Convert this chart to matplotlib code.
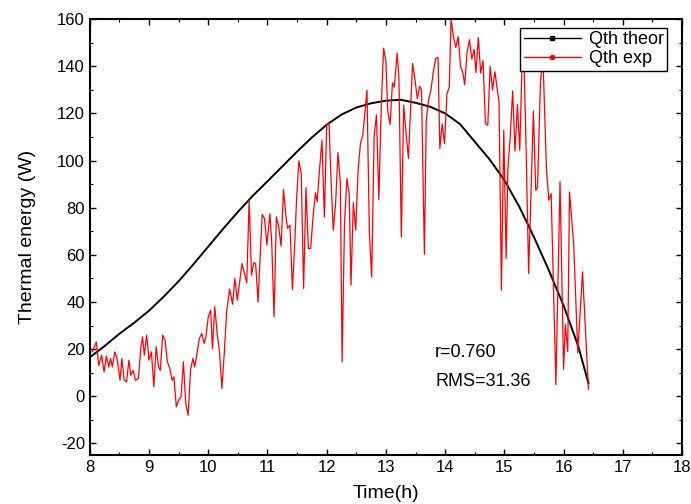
import matplotlib
matplotlib.use("Agg")
import matplotlib.pyplot as plt
from matplotlib.lines import Line2D
from matplotlib.ticker import MultipleLocator

plt.rcParams['font.family'] = ['Liberation Sans', 'DejaVu Sans']
plt.rcParams['axes.unicode_minus'] = False

# theoretical thermal energy
t_theor = [8.0, 8.25, 8.5, 8.75, 9.0, 9.25, 9.5, 9.75, 10.0, 10.25, 10.5, 10.75,
           11.0, 11.25, 11.5, 11.75, 12.0, 12.25, 12.5, 12.75, 13.0, 13.25, 13.5,
           13.75, 14.0, 14.25, 14.5, 14.75, 15.0, 15.25, 15.5, 15.75, 16.0, 16.25,
           16.42]
q_theor = [16.5, 21.3, 26.5, 31.2, 36.3, 42.3, 48.8, 56.0, 63.5, 71.0, 78.2, 85.0,
           91.2, 97.5, 103.8, 109.8, 115.2, 119.5, 122.5, 124.3, 125.4, 125.8, 124.5,
           122.8, 120.0, 115.5, 108.0, 100.5, 91.7, 80.5, 67.5, 53.5, 38.5, 21.0,
           5.5]

# measured thermal energy
t_exp = [8.04, 8.11, 8.15, 8.20, 8.24, 8.28, 8.32, 8.35, 8.38, 8.42, 8.46, 8.51,
         8.54, 8.58, 8.62, 8.66, 8.69, 8.73, 8.77, 8.82, 8.86, 8.89, 8.92, 8.96,
         9.00, 9.04, 9.08, 9.12, 9.16, 9.19, 9.23, 9.27, 9.31, 9.35, 9.39, 9.42,
         9.46, 9.50, 9.54, 9.58, 9.62, 9.66, 9.70, 9.74, 9.77, 9.81, 9.85, 9.89,
         9.93, 9.96, 10.00, 10.04, 10.07, 10.11, 10.15, 10.19, 10.23, 10.27, 10.31,
         10.36, 10.41, 10.45, 10.49, 10.57, 10.65, 10.69, 10.73, 10.77, 10.80, 10.84,
         10.91, 10.95, 10.99, 11.04, 11.07, 11.11, 11.15, 11.19, 11.23, 11.27, 11.31,
         11.34, 11.38, 11.42, 11.46, 11.49, 11.53, 11.57, 11.61, 11.65, 11.69, 11.73,
         11.77, 11.81, 11.84, 11.88, 11.92, 11.96, 12.00, 12.04, 12.07, 12.11, 12.15,
         12.19, 12.23, 12.26, 12.30, 12.34, 12.38, 12.41, 12.45, 12.49, 12.53, 12.57,
         12.61, 12.68, 12.72, 12.76, 12.80, 12.84, 12.88, 12.92, 12.96, 13.00, 13.03,
         13.07, 13.11, 13.14, 13.19, 13.22, 13.26, 13.30, 13.33, 13.38, 13.45, 13.49,
         13.53, 13.57, 13.60, 13.65, 13.68, 13.72, 13.76, 13.80, 13.84, 13.88, 13.91,
         13.95, 13.99, 14.03, 14.07, 14.10, 14.14, 14.18, 14.22, 14.26, 14.30, 14.33,
         14.37, 14.41, 14.45, 14.49, 14.52, 14.56, 14.60, 14.64, 14.68, 14.72, 14.76,
         14.80, 14.84, 14.87, 14.91, 14.95, 14.99, 15.03, 15.06, 15.10, 15.14, 15.18,
         15.22, 15.26, 15.30, 15.33, 15.37, 15.41, 15.49, 15.53, 15.56, 15.61, 15.65,
         15.71, 15.75, 15.79, 15.87, 15.94, 16.00, 16.03, 16.07, 16.10, 16.17, 16.24,
         16.32, 16.42]
q_exp = [18.8, 23.0, 13.0, 17.4, 10.3, 17.0, 12.4, 16.0, 12.4, 18.8, 16.0, 6.8,
         16.0, 6.8, 6.1, 15.3, 8.9, 11.0, 6.8, 7.5, 20.2, 25.2, 17.4, 25.9,
         15.3, 18.8, 4.0, 21.0, 12.4, 11.0, 25.9, 23.8, 14.6, 11.8, 6.8, 8.2,
         -4.5, -1.7, -0.3, 14.6, -3.1, -8.1, 11.0, 16.0, 12.4, 18.1, 24.5, 26.6,
         22.4, 25.2, 33.7, 36.5, 20.2, 37.9, 26.6, 18.8, 3.3, 18.1, 35.8,
         45.5, 39.0, 50.0, 40.7, 56.3, 48.1, 83.2, 51.4, 56.7, 56.3, 40.0,
         77.1, 75.4, 64.1, 77.4, 66.2, 33.7, 76.1, 71.9, 63.7, 87.7, 76.8,
         71.2, 72.6, 45.3, 64.1, 83.2, 99.9, 94.5, 45.7, 88.5, 62.7, 62.7,
         76.4, 86.3, 82.5, 96.6, 108.7, 76.1, 115.4, 115.7, 93.8, 70.5, 81.7,
         103.4, 90.5, 14.6, 72.6, 92.4, 86.0, 47.1, 82.1, 70.5, 95.9, 107.3,
         110.8, 129.9, 69.5, 50.6, 110.0, 119.3, 83.4, 121.7, 147.7, 142.2, 121.0,
         115.3, 133.0, 131.2, 145.6, 134.8, 67.6, 123.5, 114.3, 100.9, 141.3, 134.5,
         126.3, 131.5, 130.0, 60.2, 116.4, 125.7, 129.9, 137.7, 143.2, 143.8, 105.1,
         115.5, 107.1, 128.2, 131.3, 160.0, 152.5, 148.0, 152.6, 140.1, 137.0, 132.2,
         145.8, 151.3, 143.1, 147.2, 137.3, 152.2, 137.1, 142.4, 115.7, 115.0, 140.0,
         129.9, 137.7, 132.3, 124.9, 45.0, 112.9, 58.4, 96.6, 110.7, 129.5, 104.0,
         123.8, 104.4, 142.6, 146.0, 101.6, 52.1, 121.0, 87.4, 88.5, 133.7, 145.0,
         96.6, 83.2, 86.0, 5.0, 91.0, 11.4, 30.5, 19.0, 86.7, 64.8, 18.5,
         52.8, 3.0]

x_ticks = list(range(8, 19))
y_ticks = list(range(-20, 161, 20))

fig = plt.figure(figsize=(6.91, 5.04), dpi=100)
ax = fig.add_axes([0.130, 0.097, 0.857, 0.865])

ax.plot(t_theor, q_theor, color='black', lw=1.4)
ax.plot(t_exp, q_exp, color='red', lw=0.9)

ax.set_xlim(8, 18)
ax.set_ylim(-25, 160)
ax.set_xticks(x_ticks)
ax.set_yticks(y_ticks)
ax.xaxis.set_minor_locator(MultipleLocator(0.5))
ax.yaxis.set_minor_locator(MultipleLocator(10))
ax.tick_params(which='both', direction='in', top=True, right=True, labelsize=12)
ax.tick_params(which='major', length=4, width=1)
ax.tick_params(which='minor', length=2.5, width=0.8)
for s in ax.spines.values():
    s.set_linewidth(1.5)

ax.set_xlabel('Time(h)', fontsize=14, labelpad=7)
ax.set_ylabel('Thermal energy (W)', fontsize=14, labelpad=15)

ax.text(13.83, 18.7, 'r=0.760', fontsize=13, va='center', ha='left')
ax.text(13.83, 6.4, 'RMS=31.36', fontsize=13, va='center', ha='left')

handles = [Line2D([], [], color='black', lw=1, marker='s', markersize=3),
           Line2D([], [], color='red', lw=1, marker='o', markersize=3)]
leg = ax.legend(handles, ['Qth theor', 'Qth exp'], loc='upper right',
                bbox_to_anchor=(0.975, 0.98), fontsize=13, frameon=True,
                fancybox=False, framealpha=1, edgecolor='black',
                borderpad=0.2, labelspacing=0.1, handlelength=3.2,
                handletextpad=0.4, borderaxespad=0)
leg.get_frame().set_linewidth(1.0)

fig.savefig('out.png', dpi=100)
